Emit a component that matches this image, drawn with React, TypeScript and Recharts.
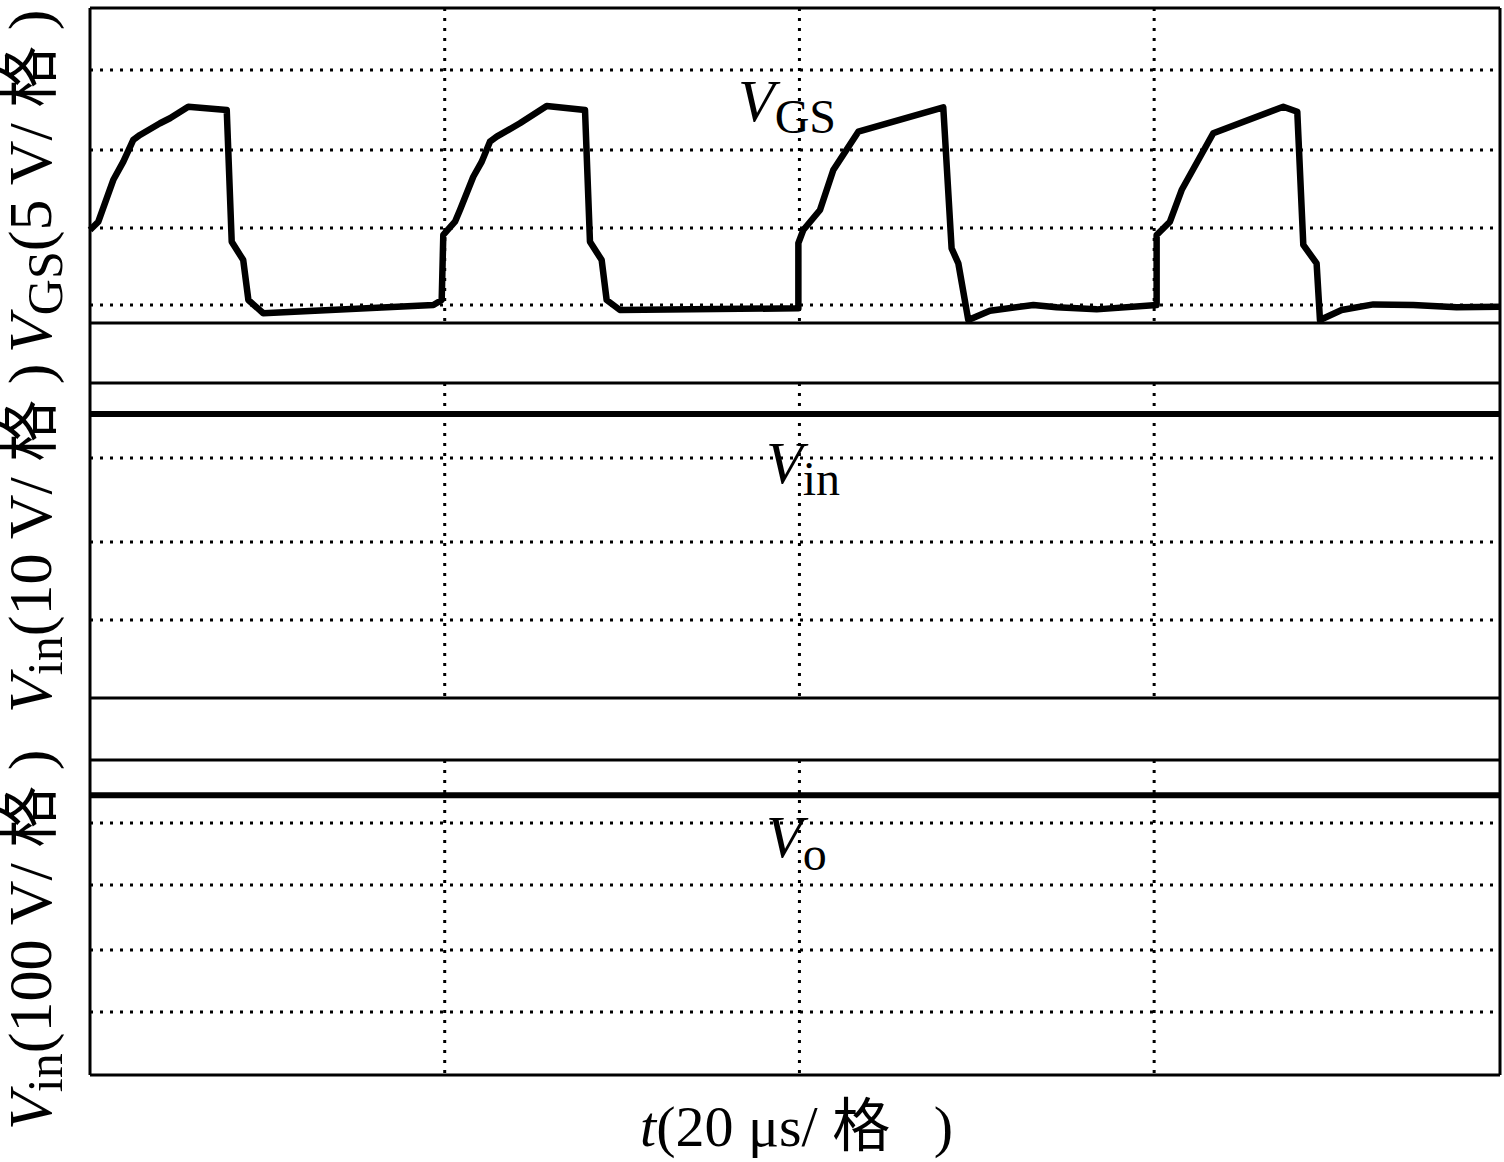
import React from "react";
import { LineChart, Line, XAxis, YAxis, ReferenceLine } from "recharts";

// V_GS trace (time in us, gate voltage in V)
const timeUs = [
  0, 0.47, 1.31, 1.88, 2.44, 2.82, 3.95, 4.51, 5.54, 7.71, 7.99, 8.64, 8.93, 9.77,
  19.36, 19.83, 19.92, 20.58, 20.86, 21.61, 22.09, 22.55, 22.93, 24.24, 25.75, 27.91,
  28.19, 28.85, 29.13, 29.88, 39.94, 39.94, 40.22, 41.16, 41.91, 43.32, 48.11, 48.58,
  48.96, 49.52, 50.74, 53.19, 54.5, 56.76, 60.14, 60.14, 60.89, 61.55, 63.33, 67.28,
  68.07, 68.41, 69.16, 69.35, 70.57, 72.36, 74.61, 77.05, 79.5,
];
const vgsVolts = [
  4.81, 5.34, 8.01, 9.19, 10.58, 10.9, 11.65, 11.97, 12.71, 12.5, 4.06, 2.88, 0.32, -0.53,
  0.0, 0.32, 4.49, 5.34, 6.09, 8.22, 9.19, 10.47, 10.79, 11.65, 12.76, 12.5,
  4.06, 2.88, 0.32, -0.32, -0.21, 3.96, 4.81, 6.09, 8.65, 11.11, 12.67, 3.63,
  2.67, -0.96, -0.37, 0.0, -0.15, -0.28, 0.0, 4.49, 5.34, 7.37, 11.01, 12.71,
  12.39, 3.85, 2.67, -0.96, -0.32, 0.04, 0.0, -0.15, -0.11,
];

// V_in and V_o are flat DC traces
const vinTimeUs = [0, 79.5];
const vinVolts = [35.5, 35.5];
const voTimeUs = [0, 79.5];
const voVolts = [444, 444];

// time divisions (20 us / div)
const timeDivs = [20, 40, 60];

const W = 1504;
const H = 1162;
const TOP = 8;
const BOTTOM = 1075;
const T_MAX = 79.5;

// rows of the scope screen (px from the top of the picture)
const dottedRows = [70, 150, 228, 305, 458, 542, 620, 823, 885, 950, 1012];
const thinRows = [323, 383, 698, 760];
const panelSpans: [number, number][] = [
  [TOP, 323],
  [383, 698],
  [760, BOTTOM],
];

// each channel has its own zero row and volts per division
function channelDomain(zeroRow: number, pxPerDiv: number, voltsPerDiv: number): [number, number] {
  const pxPerVolt = pxPerDiv / voltsPerDiv;
  return [(zeroRow - BOTTOM) / pxPerVolt, (zeroRow - TOP) / pxPerVolt];
}

const vgsData = timeUs.map((t, i) => ({ t, v: vgsVolts[i] }));
const vinData = vinTimeUs.map((t, i) => ({ t, v: vinVolts[i] }));
const voData = voTimeUs.map((t, i) => ({ t, v: voVolts[i] }));
// invisible helper so the screen-row axis has a domain
const frameData = [
  { t: 0, v: TOP },
  { t: T_MAX, v: BOTTOM },
];

const SERIF = "'Liberation Serif', 'Times New Roman', 'Noto Sans CJK SC', serif";

const AxisLabelY = ({ y, sub, scale }: { y: number; sub: string; scale: string }) => (
  <text
    transform={`translate(51, ${y}) rotate(-90)`}
    fontFamily={SERIF}
    fontSize={62}
    fill="#000"
  >
    <tspan fontStyle="italic">V</tspan>
    <tspan fontSize={50} dy={11}>
      {sub}
    </tspan>
    <tspan dy={-11}>{scale}</tspan>
  </text>
);

const dotted = { stroke: "#000", strokeWidth: 3, strokeDasharray: "3 7" };
const solid = { stroke: "#000", strokeWidth: 3 };

const App = () => {
  return (
    <div style={{ position: "absolute", left: 0, top: 0, width: W, height: H, background: "#fff" }}>
      <LineChart width={W} height={H} margin={{ top: TOP, right: W - 1500, left: 90, bottom: H - BOTTOM }}>
        <XAxis dataKey="t" type="number" domain={[0, T_MAX]} hide />
        <YAxis yAxisId="frame" type="number" domain={[TOP, BOTTOM]} reversed hide />
        <YAxis yAxisId="gs" type="number" domain={channelDomain(305, 78, 5)} hide />
        <YAxis yAxisId="vin" type="number" domain={channelDomain(698, 80, 10)} hide />
        <YAxis yAxisId="vo" type="number" domain={channelDomain(BOTTOM, 63, 100)} hide />

        <Line
          data={frameData}
          dataKey="v"
          yAxisId="frame"
          stroke="none"
          dot={false}
          activeDot={false}
          isAnimationActive={false}
        />

        {dottedRows.map((r) => (
          <ReferenceLine key={`d${r}`} yAxisId="frame" y={r} {...dotted} />
        ))}
        {timeDivs.map((t) =>
          panelSpans.map(([a, b]) => (
            <ReferenceLine
              key={`v${t}-${a}`}
              yAxisId="frame"
              segment={[
                { x: t, y: a },
                { x: t, y: b },
              ]}
              {...dotted}
            />
          ))
        )}
        {thinRows.map((r) => (
          <ReferenceLine key={`s${r}`} yAxisId="frame" y={r} {...solid} />
        ))}

        <Line
          data={vgsData}
          dataKey="v"
          yAxisId="gs"
          type="linear"
          stroke="#000"
          strokeWidth={6.5}
          strokeLinejoin="round"
          dot={false}
          isAnimationActive={false}
        />
        <Line
          data={vinData}
          dataKey="v"
          yAxisId="vin"
          type="linear"
          stroke="#000"
          strokeWidth={6}
          dot={false}
          isAnimationActive={false}
        />
        <Line
          data={voData}
          dataKey="v"
          yAxisId="vo"
          type="linear"
          stroke="#000"
          strokeWidth={6}
          dot={false}
          isAnimationActive={false}
        />

        {/* screen frame */}
        <ReferenceLine yAxisId="frame" y={TOP} {...solid} />
        <ReferenceLine yAxisId="frame" y={BOTTOM} {...solid} />
        <ReferenceLine yAxisId="frame" x={0} {...solid} />
        <ReferenceLine yAxisId="frame" x={T_MAX} {...solid} />
      </LineChart>

      <svg width={W} height={H} style={{ position: "absolute", left: 0, top: 0, pointerEvents: "none" }}>
        <text x={738} y={121} fontFamily={SERIF} fontSize={60} fill="#000">
          <tspan fontStyle="italic">V</tspan>
          <tspan fontSize={48} dy={12}>GS</tspan>
        </text>
        <text x={766} y={483} fontFamily={SERIF} fontSize={60} fill="#000">
          <tspan fontStyle="italic">V</tspan>
          <tspan fontSize={48} dy={12}>in</tspan>
        </text>
        <text x={766} y={857} fontFamily={SERIF} fontSize={60} fill="#000">
          <tspan fontStyle="italic">V</tspan>
          <tspan fontSize={48} dy={13}>o</tspan>
        </text>

        <text x={640} y={1146} fontFamily={SERIF} fontSize={58} fill="#000">
          <tspan fontStyle="italic">t</tspan>
          <tspan>{"(20 μs/ 格\u00a0\u00a0 )"}</tspan>
        </text>

        <AxisLabelY y={1130} sub="in" scale="(100 V/ 格 )" />
        <AxisLabelY y={713} sub="in" scale="(10 V/ 格 )" />
        <AxisLabelY y={353} sub="GS" scale="(5 V/ 格 )" />
      </svg>
    </div>
  );
};

export default App;
